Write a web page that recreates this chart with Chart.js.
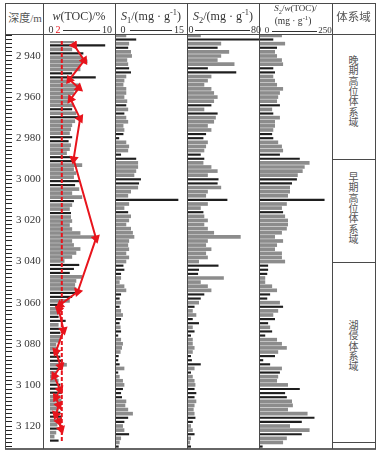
<!DOCTYPE html>
<html>
<head>
<meta charset="utf-8">
<title>Well log</title>
<script src="https://cdn.jsdelivr.net/npm/chart.js@4.4.0/dist/chart.umd.min.js"></script>
<style>
  body { margin: 0; background: #fff; }
  #wrap { position: relative; width: 382px; height: 457px; overflow: hidden; background: #fff; }
  #wrap canvas { position: absolute; }
  .ln { position: absolute; background: #4a4a4a; }
  .t { position: absolute; font-family: 'Liberation Serif', 'Times New Roman', serif; color: #333; white-space: nowrap; text-align: center; }
  .cn { font-family: 'Noto Sans CJK SC', sans-serif; color: #555; }
  .ax { position: absolute; height: 1px; background: #333; }
  sub, sup { font-size: 70%; line-height: 0; }
  .st { position: absolute; left: 347px; width: 13px; writing-mode: vertical-rl; text-orientation: upright; font-family: 'Noto Sans CJK SC', sans-serif; font-size: 10px; line-height: 13px; letter-spacing: 0.4px; color: #555; }
</style>
</head>
<body>
<div id="wrap">
  <canvas id="depthChart" width="43" height="413" style="left:0;top:35px"></canvas>
  <canvas id="tocChart" width="71" height="413" style="left:44px;top:35px"></canvas>
  <canvas id="s1Chart" width="71" height="413" style="left:116px;top:35px"></canvas>
  <canvas id="s2Chart" width="71" height="413" style="left:188px;top:35px"></canvas>
  <canvas id="hiChart" width="72" height="413" style="left:260px;top:35px"></canvas>

  <!-- table frame -->
  <div class="ln" style="left:5px;top:3px;width:371px;height:1px"></div>
  <div class="ln" style="left:5px;top:34px;width:371px;height:1px"></div>
  <div class="ln" style="left:5px;top:448px;width:371px;height:2px;background:#666"></div>
  <div class="ln" style="left:5px;top:3px;width:1px;height:446px"></div>
  <div class="ln" style="left:43px;top:3px;width:1px;height:446px"></div>
  <div class="ln" style="left:115px;top:3px;width:1px;height:446px"></div>
  <div class="ln" style="left:187px;top:3px;width:1px;height:446px"></div>
  <div class="ln" style="left:259px;top:3px;width:1px;height:446px"></div>
  <div class="ln" style="left:332px;top:3px;width:1px;height:446px"></div>
  <div class="ln" style="left:375px;top:3px;width:1px;height:446px"></div>
  <div class="ln" style="left:332px;top:159px;width:44px;height:1px"></div>
  <div class="ln" style="left:332px;top:262px;width:44px;height:1px"></div>
  <div class="ln" style="left:332px;top:442px;width:44px;height:1px"></div>

  <!-- header -->
  <div class="t cn" style="left:6px;top:9px;width:38px;font-size:11px;line-height:16px">深度<span style="font-family:'Liberation Serif',serif">/m</span></div>
  <div class="t" style="left:43px;top:8px;width:72px;font-size:12px;line-height:16px"><i>w</i>(TOC)/%</div>
  <div class="t" style="left:47px;top:24px;width:8px;font-size:10px;line-height:12px">0</div>
  <div class="t" style="left:54px;top:24px;width:8px;font-size:10px;line-height:12px;color:#e8141c">2</div>
  <div class="ax" style="left:63px;top:30px;width:37px"></div>
  <div class="t" style="left:101px;top:24px;width:12px;font-size:10px;line-height:12px">10</div>

  <div class="t" style="left:115px;top:8px;width:72px;font-size:12px;line-height:16px"><i>S</i><sub>1</sub>/(mg · g<sup>-1</sup>)</div>
  <div class="t" style="left:119px;top:24px;width:8px;font-size:10px;line-height:12px">0</div>
  <div class="ax" style="left:130px;top:30px;width:42px"></div>
  <div class="t" style="left:173px;top:24px;width:12px;font-size:10px;line-height:12px">15</div>

  <div class="t" style="left:187px;top:8px;width:72px;font-size:12px;line-height:16px"><i>S</i><sub>2</sub>/(mg · g<sup>-1</sup>)</div>
  <div class="t" style="left:187px;top:24px;width:8px;font-size:10px;line-height:12px">0</div>
  <div class="ax" style="left:195px;top:30px;width:55px"></div>
  <div class="t" style="left:250px;top:24px;width:12px;font-size:10px;line-height:12px">80</div>

  <div class="t" style="left:259px;top:3px;width:73px;font-size:9px;line-height:11px"><i>S</i><sub>2</sub>/<i>w</i>(TOC)/</div>
  <div class="t" style="left:259px;top:15px;width:68px;font-size:9.5px;line-height:12px">(mg · g<sup>-1</sup>)</div>
  <div class="t" style="left:263px;top:25px;width:8px;font-size:9px;line-height:11px">0</div>
  <div class="ax" style="left:272px;top:31px;width:45px"></div>
  <div class="t" style="left:317px;top:25px;width:16px;font-size:9px;line-height:11px">250</div>

  <div class="t cn" style="left:332px;top:8px;width:43px;font-size:11.5px;line-height:16px">体系域</div>

  <!-- system tracts -->
  <div class="st" style="top:55px">晚期高位体系域</div>
  <div class="st" style="top:172px">早期高位体系域</div>
  <div class="st" style="top:320px">湖侵体系域</div>
</div>

<script>
// Depth axis range (m)
const depthMin = 2929.8;
const depthMax = 3130.7;

// Sampling depths of the log bars (m)
const depths = [
    2930, 2932, 2934, 2936, 2938, 2940, 2942, 2944, 2946, 2948,
    2950, 2952, 2954, 2956, 2958, 2960, 2962, 2964, 2966, 2968,
    2970, 2972, 2974, 2976, 2978, 2980, 2982, 2984, 2986, 2988,
    2990, 2992, 2994, 2996, 2998, 3000, 3002, 3004, 3006, 3008,
    3010, 3012, 3014, 3016, 3018, 3020, 3022, 3024, 3026, 3028,
    3030, 3032, 3034, 3036, 3038, 3040, 3042, 3044, 3046, 3048,
    3050, 3052, 3054, 3056, 3058, 3060, 3062, 3064, 3066, 3068,
    3070, 3072, 3074, 3076, 3078, 3080, 3082, 3084, 3086, 3088,
    3090, 3092, 3094, 3096, 3098, 3100, 3102, 3104, 3106, 3108,
    3110, 3112, 3114, 3116, 3118, 3120, 3122, 3124, 3126, 3128,
    3130
];

// Bar tone per depth: g = gray, k = black
const tones = [
    'g','k','g','k','g','g','g','g','k','k',
    'g','g','g','g','g','g','g','k','g','k',
    'g','g','g','g','k','k','g','g','g','k',
    'k','g','g','g','g','k','k','g','g','g',
    'k','g','g','k','g','g','g','g','g','g',
    'g','g','g','g','g','g','k','k','k','g',
    'g','g','g','k','k','g','k','g','g','k',
    'k','g','k','k','g','g','g','g','k','k',
    'k','g','k','g','g','g','k','k','k','g',
    'g','g','g','k','k','g','g','k','g','g',
    'k'
];

// w(TOC) log, %
const tocLog = [
    4.0, 9.3, 3.7, 5.6, 5.4, 6.3, 5.1, 5.1, 3.7, 7.7,
    3.3, 4.9, 4.7, 4.0, 3.5, 3.1, 4.0, 3.7, 4.4, 4.7,
    4.2, 3.7, 3.5, 3.3, 3.7, 3.1, 3.5, 3.3, 2.8, 3.7,
    4.2, 5.4, 4.0, 4.4, 4.0, 4.9, 4.2, 4.9, 3.7, 5.4,
    4.0, 3.7, 3.3, 3.5, 3.5, 3.7, 3.3, 3.7, 5.1, 7.7,
    3.7, 4.0, 5.1, 4.4, 3.7, 2.4, 4.9, 4.0, 3.3, 5.4,
    4.4, 4.2, 4.4, 4.7, 3.7, 3.3, 1.7, 1.4, 1.7, 1.4,
    2.6, 1.4, 2.1, 1.7, 1.9, 1.7, 1.0, 1.2, 1.4, 1.7,
    2.1, 2.8, 1.9, 1.0, 1.2, 1.4, 1.7, 1.4, 1.9, 1.7,
    1.9, 1.7, 1.4, 1.7, 1.9, 1.7, 1.2, 1.7, 1.0, 0.7,
    1.4
];

// S1, mg/g
const s1Values = [
    2.1, 4.2, 2.7, 2.5, 3.1, 3.3, 2.3, 2.5, 2.7, 3.1,
    2.1, 1.7, 1.5, 2.1, 2.1, 1.7, 2.3, 2.1, 2.5, 1.7,
    2.1, 2.5, 1.5, 1.7, 1.5, 0.6, 2.1, 2.7, 2.5, 1.0,
    4.2, 4.6, 4.6, 4.2, 3.8, 5.2, 4.8, 4.6, 3.1, 2.5,
    13.1, 2.7, 1.7, 2.5, 3.1, 2.7, 2.1, 3.1, 3.5, 3.8,
    2.7, 2.5, 2.7, 2.1, 2.7, 2.1, 1.5, 1.7, 1.0, 1.0,
    0.7, 1.7, 2.1, 1.0, 0.7, 1.0, 0.7, 1.0, 1.4, 1.0,
    0.7, 0.9, 1.0, 0.4, 1.0, 1.4, 1.2, 0.9, 0.5, 0.4,
    0.7, 1.7, 0.4, 0.7, 1.4, 1.7, 1.4, 1.0, 1.2, 2.1,
    1.9, 2.5, 3.5, 2.5, 1.7, 1.4, 1.7, 2.7, 1.0, 0.7,
    0.5
];

// S2, mg/g
const s2Values = [
    14, 80, 37, 33, 46, 37, 33, 52, 22, 54,
    26, 22, 18, 26, 29, 33, 29, 26, 18, 33,
    31, 29, 22, 26, 20, 17, 22, 20, 18, 14,
    18, 17, 26, 33, 22, 34, 33, 37, 22, 20,
    44, 22, 14, 17, 18, 22, 18, 22, 29, 59,
    22, 20, 26, 20, 22, 12, 34, 12, 11, 40,
    14, 22, 26, 18, 14, 12, 7, 5, 9, 5,
    12, 5, 7, 3, 5, 5, 7, 5, 3, 4,
    14, 7, 3, 5, 7, 8, 7, 9, 7, 9,
    7, 6, 7, 8, 5, 3, 5, 7, 3, 2,
    3
];

// S2/w(TOC), mg/g
const hiValues = [
    75, 45, 86, 58, 51, 58, 75, 79, 45, 51,
    45, 51, 58, 79, 68, 62, 58, 68, 41, 45,
    68, 51, 51, 45, 41, 45, 62, 75, 79, 68,
    137, 171, 154, 147, 130, 127, 110, 103, 103, 96,
    223, 92, 75, 79, 86, 96, 96, 92, 75, 51,
    79, 58, 51, 75, 75, 86, 27, 27, 24, 17,
    17, 41, 58, 34, 24, 68, 79, 62, 45, 51,
    27, 34, 41, 17, 58, 75, 92, 62, 51, 10,
    34, 75, 68, 62, 58, 96, 137, 86, 92, 110,
    113, 96, 164, 188, 144, 103, 171, 144, 92, 79,
    8
];

// Measured core TOC samples (red line)
const sampleDepths = [2931.9, 2939.5, 2949.2, 2953.3, 2959, 2968.7, 2989, 3028.7, 3055.4, 3062,
                      3064.4, 3074.7, 3085.4, 3092.7, 3097.6, 3104.4, 3108.3, 3112.2, 3117, 3120.4, 3124.3];
const sampleToc = [4.1, 5.8, 3.3, 4.9, 3.5, 5.1, 4.0, 7.8, 4.7, 1.7,
                   1.5, 2.3, 1.0, 1.8, 0.7, 1.7, 1.0, 1.5, 1.0, 1.5, 1.9];

// TOC cut-off line
const tocCutoff = 2;

const RED = '#e8141c';
const GRAY = '#8c8c8c';
const DARK = '#1e1e1e';

// Format depth label like "2 940"
function formatDepth(v) {
    return String(v).replace(/^(\d)(\d{3})$/, '$1 $2');
}

// Split a column into gray and black bar datasets
function barDatasets(values) {
    const grayPts = [];
    const darkPts = [];
    depths.forEach((d, i) => {
        const pt = { x: values[i], y: d };
        if (tones[i] === 'k') darkPts.push(pt); else grayPts.push(pt);
    });
    return [
        { type: 'bar', data: grayPts, backgroundColor: GRAY, barThickness: 3, grouped: false, order: 2 },
        { type: 'bar', data: darkPts, backgroundColor: DARK, barThickness: 1.5, grouped: false, order: 1 }
    ];
}

// Render one log column
function renderColumn(id, values, xMax, extra) {
    const ctx = document.getElementById(id);
    new Chart(ctx, {
        type: 'bar',
        data: { datasets: (extra || []).concat(barDatasets(values)) },
        options: {
            indexAxis: 'y',
            responsive: false,
            animation: false,
            layout: { padding: 0 },
            plugins: { legend: { display: false }, tooltip: { enabled: false } },
            scales: {
                x: { type: 'linear', min: 0, max: xMax, offset: false, display: false },
                y: { type: 'linear', min: depthMin, max: depthMax, reverse: true, offset: false, display: false }
            }
        }
    });
}

// Arrow direction for each sample marker
function arrowRotation(c) {
    const chart = c.chart;
    const i = c.dataIndex;
    const a = i === 0 ? 0 : i - 1;
    const b = i === 0 ? 1 : i;
    const sx = chart.scales.x, sy = chart.scales.y;
    const dx = sx.getPixelForValue(sampleToc[b]) - sx.getPixelForValue(sampleToc[a]);
    const dy = sy.getPixelForValue(sampleDepths[b]) - sy.getPixelForValue(sampleDepths[a]);
    return Math.atan2(dx, -dy) * 180 / Math.PI;
}

// Depth ruler
new Chart(document.getElementById('depthChart'), {
    type: 'scatter',
    data: { datasets: [] },
    options: {
        responsive: false,
        animation: false,
        layout: { padding: 0 },
        plugins: { legend: { display: false }, tooltip: { enabled: false } },
        scales: {
            x: { display: false, min: 0, max: 1 },
            y: {
                type: 'linear',
                position: 'right',
                min: depthMin,
                max: depthMax,
                reverse: true,
                afterFit: (scale) => {
                    scale.width = 38;
                    scale.paddingTop = 0;
                    scale.paddingBottom = 0;
                },
                border: { display: true, color: '#444' },
                grid: { drawOnChartArea: false, drawTicks: true, tickLength: 7, color: '#222', lineWidth: 1 },
                ticks: {
                    stepSize: 2,
                    autoSkip: false,
                    includeBounds: false,
                    padding: 4,
                    color: '#333',
                    font: { family: "'Liberation Serif', serif", size: 11 },
                    callback: (v) => (v % 20 === 0 ? formatDepth(v) : '')
                }
            }
        }
    }
});

// TOC column with cut-off line and measured samples
renderColumn('tocChart', tocLog, 10, [
    {
        type: 'line',
        data: sampleDepths.map((d, i) => ({ x: sampleToc[i], y: d })),
        borderColor: RED,
        backgroundColor: RED,
        borderWidth: 2,
        pointStyle: 'triangle',
        pointRadius: 3.5,
        rotation: arrowRotation,
        order: 0
    },
    {
        type: 'line',
        data: [{ x: tocCutoff, y: depthMin }, { x: tocCutoff, y: depthMax }],
        borderColor: RED,
        borderWidth: 2,
        borderDash: [4, 2],
        pointRadius: 0,
        order: 0
    }
]);

renderColumn('s1Chart', s1Values, 15);
renderColumn('s2Chart', s2Values, 80);
renderColumn('hiChart', hiValues, 250);
</script>
</body>
</html>
